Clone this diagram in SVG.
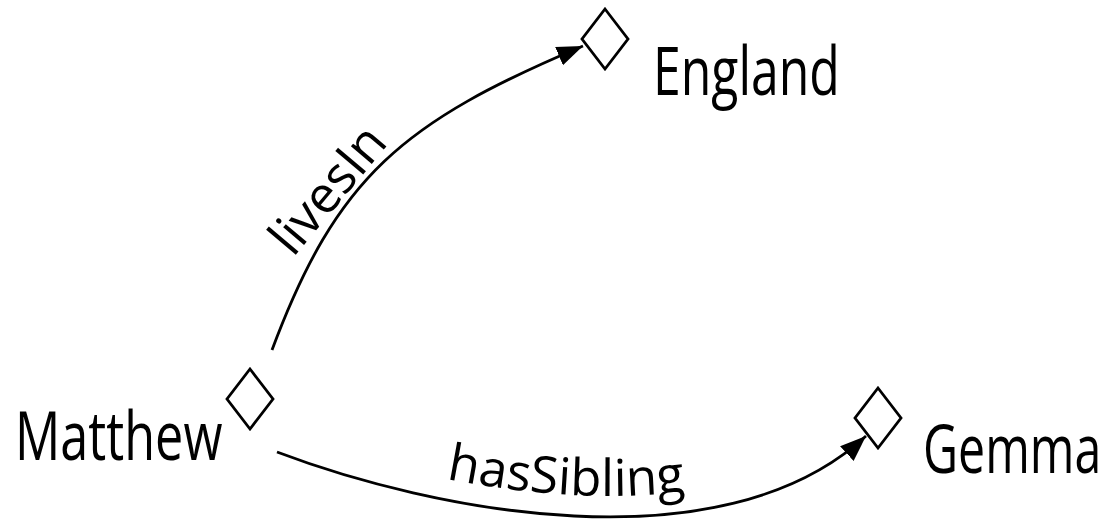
<svg xmlns="http://www.w3.org/2000/svg" width="1110" height="520" viewBox="0 0 1110 520">
<style>
.node{fill:#fff;stroke:#000;stroke-width:2.8}
.lbl{font-family:"Open Sans","Noto Sans",sans-serif;font-size:67px;fill:#000}
.elbl{font-family:"Open Sans","Noto Sans",sans-serif;font-size:51px;fill:#000}
.edge{fill:none;stroke:#000;stroke-width:2.8}
</style>
<defs>
<marker id="arr" markerUnits="userSpaceOnUse" markerWidth="28" markerHeight="22" refX="26" refY="10" orient="auto">
<path d="M0,0 L26,10 L0,20 z" fill="#000"/>
</marker>
<path id="sibPath" d="M277,431 C430,489 720,549 866,415"/>
</defs>
<rect width="1110" height="520" fill="#fff"/>
<g id="connectors">
<path class="edge" d="M272,350 C337,176 403,122 583,46" marker-end="url(#arr)"/>
<path class="edge" d="M277,452 C430,510 720,570 866,436" marker-end="url(#arr)"/>
<text class="elbl" transform="translate(293,258) rotate(-50)">livesIn</text>
<text class="elbl"><textPath href="#sibPath" startOffset="176">hasSibling</textPath></text>
</g>
<g id="node-matthew">
<polygon class="node" points="250,369 273,399 250,429 227,399"/>
<text class="lbl" transform="translate(15,460) scale(0.752,1)">Matthew</text>
</g>
<g id="node-england">
<polygon class="node" points="605,9 628,39 605,69 582,39"/>
<text class="lbl" transform="translate(653,95) scale(0.745,1)">England</text>
</g>
<g id="node-gemma">
<polygon class="node" points="878,388 901,418 878,448 855,418"/>
<text class="lbl" transform="translate(923,473) scale(0.72,1)">Gemma</text>
</g>
</svg>
